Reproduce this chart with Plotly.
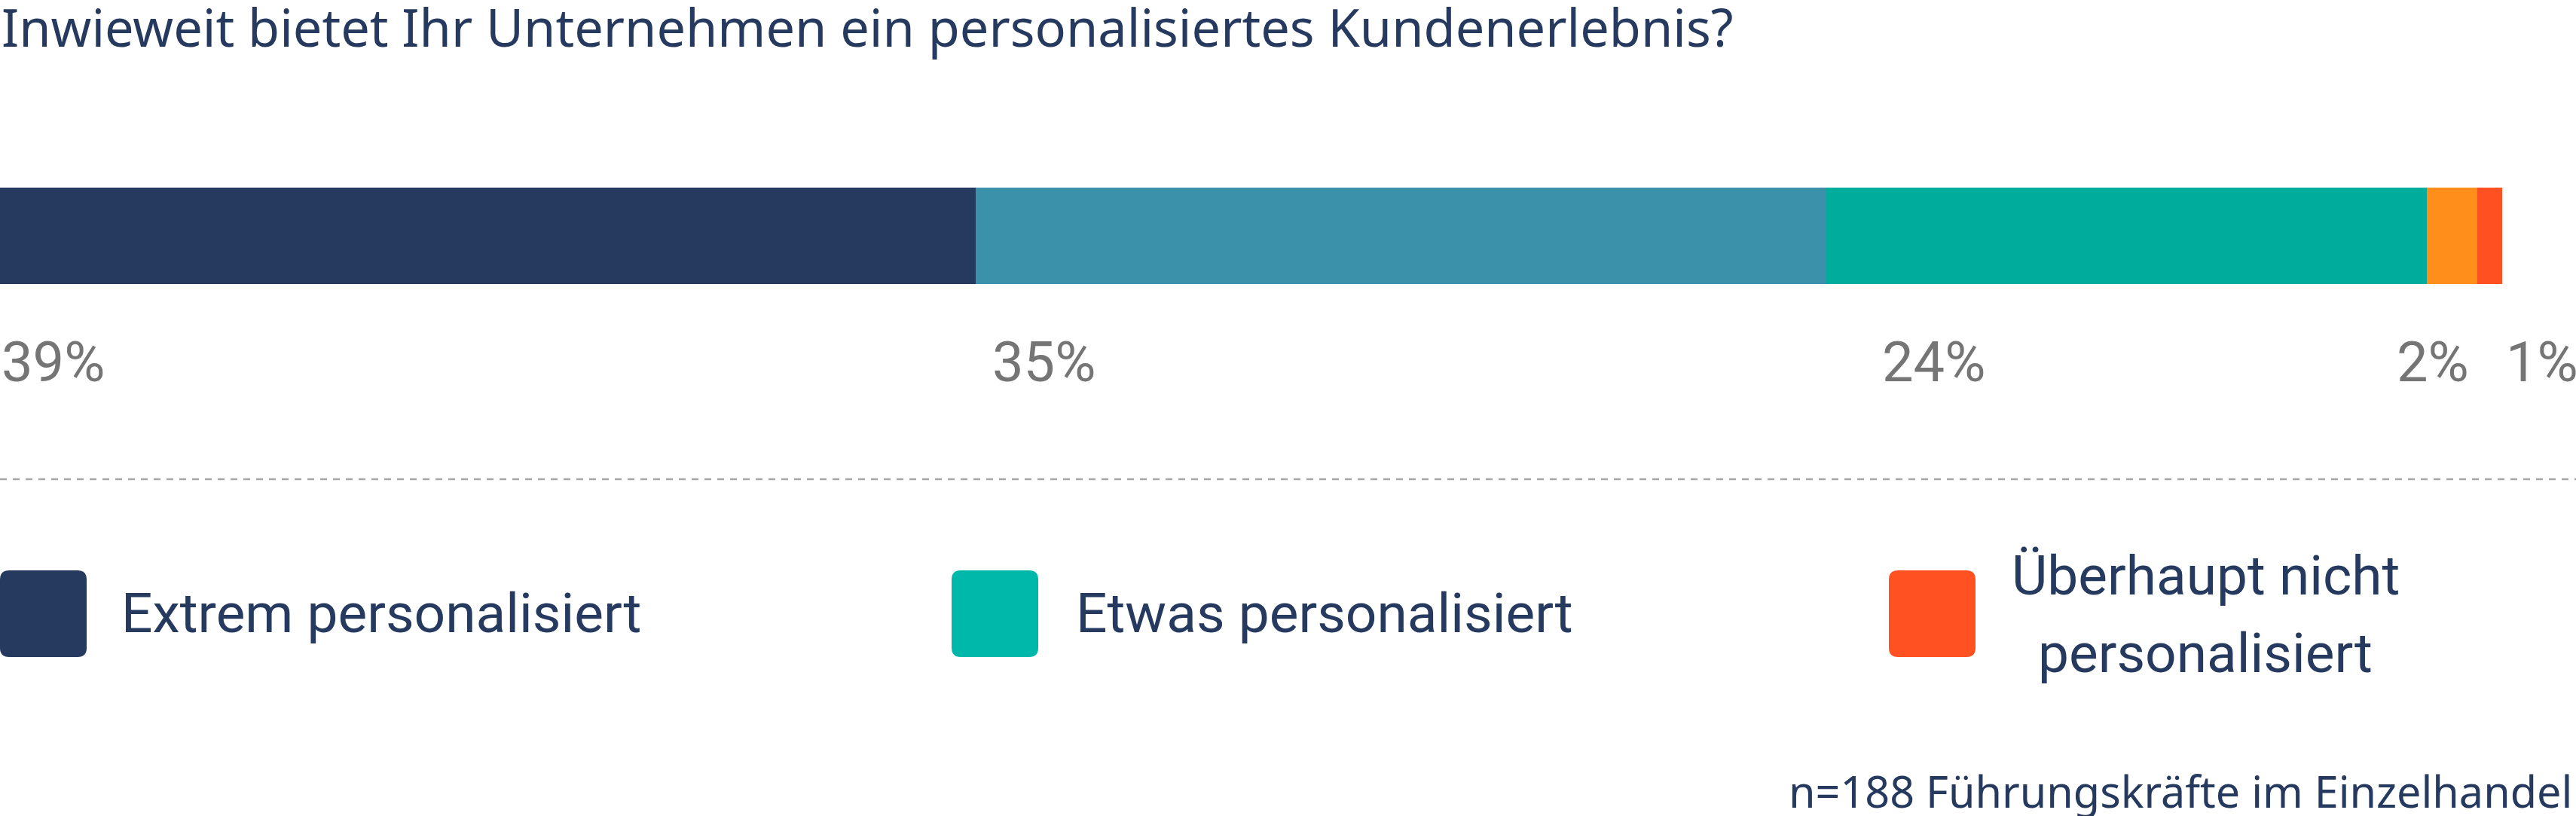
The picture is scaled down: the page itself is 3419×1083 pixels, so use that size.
import plotly.graph_objects as go

# %%
# data
segments = ["Extrem personalisiert", "Sehr personalisiert", "Etwas personalisiert",
            "Kaum personalisiert", "Überhaupt nicht personalisiert"]
values = [39, 34, 24, 2, 1]
value_labels = ["39%", "35%", "24%", "2%", "1%"]
bar_colors = ["#26395F", "#3B90AA", "#00AC9C", "#FF8F1A", "#FF5022"]

legend_labels = ["Extrem personalisiert", "Etwas personalisiert", "Überhaupt nicht<br>personalisiert"]
legend_colors = ["#26395F", "#00B8A9", "#FF5122"]

title_text = "Inwieweit bietet Ihr Unternehmen ein personalisiertes Kundenerlebnis?"
footer_text = "n=188 Führungskräfte im Einzelhandel"

# %%
W, H = 3419, 1083
NAVY = "#253A5E"
GREY = "#757575"


def py(px):
    # pixel from top -> paper y
    return 1 - px / H


def px_x(px):
    return px / W


# bar sits between 249px and 377px from top, bar width = 1 y-unit
bar_top, bar_bot = 249, 377
unit = bar_bot - bar_top
y_lo = -(H - (bar_top + bar_bot) / 2) / unit
y_hi = y_lo + H / unit

fig = go.Figure()
for name, v, c in zip(segments, values, bar_colors):
    fig.add_trace(go.Bar(x=[v], y=[0], orientation="h", name=name,
                         marker=dict(color=c, line=dict(width=0)),
                         width=1, hoverinfo="skip", showlegend=False))

# percentage labels, placed at the start of every segment
starts = [sum(values[:i]) for i in range(len(values))]
label_shift = [0, 20, 72, -42, 36]
annotations = []
for s, t, sh in zip(starts, value_labels, label_shift):
    annotations.append(dict(x=s, y=py(480), xref="x", yref="paper", text=t,
                            showarrow=False, xanchor="left", yanchor="middle", xshift=sh,
                            font=dict(family="Roboto", size=74, color=GREY)))

annotations.append(dict(x=0, y=py(35), xref="paper", yref="paper", text=title_text,
                        showarrow=False, xanchor="left", yanchor="middle",
                        font=dict(family="Noto Sans", size=68.5, color=NAVY)))
annotations.append(dict(x=px_x(3416), y=py(1050), xref="paper", yref="paper", text=footer_text,
                        showarrow=False, xanchor="right", yanchor="middle",
                        font=dict(family="Noto Sans", size=57.5, color=NAVY)))

# legend: rounded squares + labels
sq_left = [0, 1263, 2507]
sq_size = 115
sq_top = 757
r = 12
shapes = []
for x0, c in zip(sq_left, legend_colors):
    x1, y0, y1 = x0 + sq_size, sq_top, sq_top + sq_size
    pts = [
        ("M", x0 + r, y0), ("L", x1 - r, y0), ("Q", x1, y0, x1, y0 + r),
        ("L", x1, y1 - r), ("Q", x1, y1, x1 - r, y1), ("L", x0 + r, y1),
        ("Q", x0, y1, x0, y1 - r), ("L", x0, y0 + r), ("Q", x0, y0, x0 + r, y0),
    ]
    path = ""
    for p in pts:
        cmd, coords = p[0], p[1:]
        pairs = [f"{px_x(coords[i])},{py(coords[i + 1])}" for i in range(0, len(coords), 2)]
        path += cmd + " ".join(pairs) + " "
    shapes.append(dict(type="path", path=path + "Z", xref="paper", yref="paper",
                       fillcolor=c, line=dict(width=0)))

# label lines: single-line labels sit beside the square, the wrapped one is centred
legend_x = [159, 1426, 2927]
legend_y = [814, 814, 764]
legend_anchor = ["left", "left", "center"]
line_gap = 103
for t, lx, ly, a in zip(legend_labels, legend_x, legend_y, legend_anchor):
    for k, line in enumerate(t.split("<br>")):
        annotations.append(dict(x=px_x(lx), y=py(ly + k * line_gap), xref="paper", yref="paper",
                                text=line, showarrow=False, xanchor=a, yanchor="middle",
                                font=dict(family="Roboto", size=73, color=NAVY)))

# dashed separator
shapes.append(dict(type="line", xref="paper", yref="paper", x0=0, x1=1, y0=py(636), y1=py(636),
                   line=dict(color="#A6A6A6", width=2.5, dash="9px,8px")))

fig.update_layout(
    width=W, height=H,
    margin=dict(l=0, r=0, t=0, b=0),
    barmode="stack",
    plot_bgcolor="white", paper_bgcolor="white",
    xaxis=dict(domain=[0, 3321 / W], range=[0, 100], visible=False, fixedrange=True),
    yaxis=dict(range=[y_lo, y_hi], visible=False, fixedrange=True),
    annotations=annotations,
    shapes=shapes,
    showlegend=False,
)

fig.write_html("out.html", config={"displayModeBar": False},
               post_script="document.body.style.margin='0px';")
